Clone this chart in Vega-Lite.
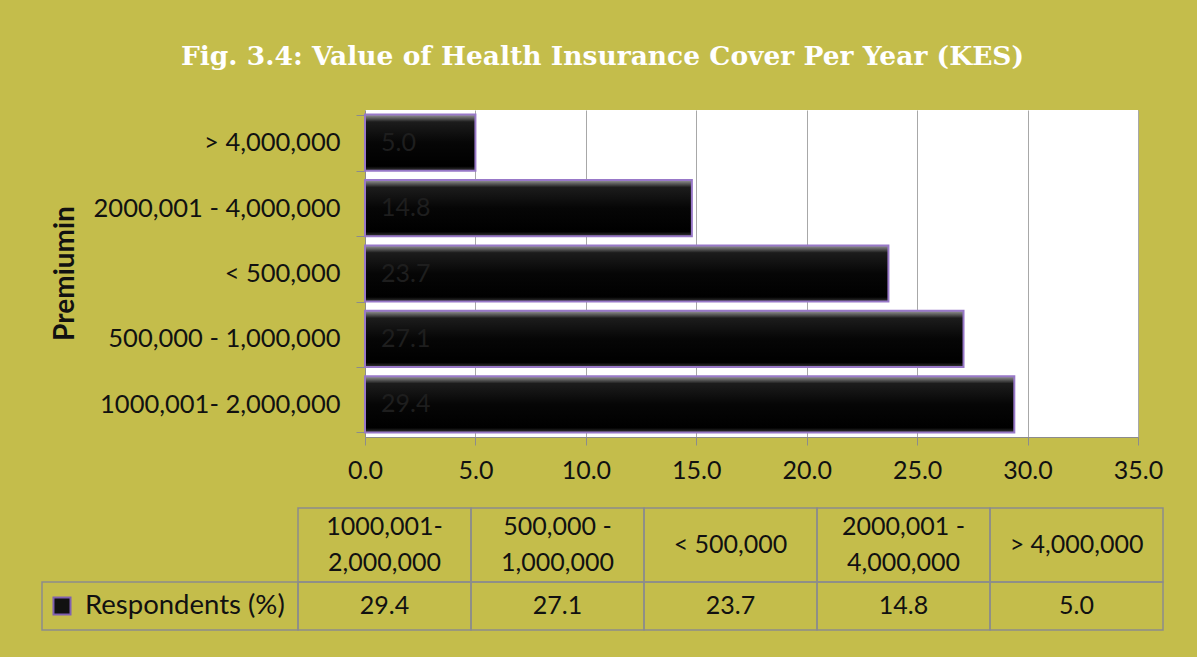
{
  "$schema": "https://vega.github.io/schema/vega-lite/v6.json",
  "width": 773,
  "height": 327,
  "autosize": {"type": "none"},
  "padding": {"left": 365, "top": 110, "right": 59, "bottom": 220},
  "background": "#C4BD4B",
  "title": {
    "text": "Fig. 3.4: Value of Health Insurance Cover Per Year (KES)",
    "anchor": "middle",
    "dx": -149,
    "offset": 7,
    "baseline": "alphabetic",
    "font": "DejaVu Serif",
    "fontSize": 26.5,
    "fontWeight": "bold",
    "color": "white",
    "frame": "group"
  },
  "config": {
    "view": {"fill": "white", "stroke": null},
    "font": "Lato"
  },
  "datasets": {
    "resp": [
      {"premium": "> 4,000,000", "hdr": "> 4,000,000", "pct": 5.0},
      {"premium": "2000,001 - 4,000,000", "hdr": "2000,001 -\n4,000,000", "pct": 14.8},
      {"premium": "< 500,000", "hdr": "< 500,000", "pct": 23.7},
      {"premium": "500,000 - 1,000,000", "hdr": "500,000 -\n1,000,000", "pct": 27.1},
      {"premium": "1000,001- 2,000,000", "hdr": "1000,001-\n2,000,000", "pct": 29.4}
    ],
    "series": [{"series": "Respondents (%)"}]
  },
  "layer": [
    {
      "data": {"name": "resp"},
      "layer": [
        {
          "mark": {
            "type": "bar",
            "fill": {
              "gradient": "linear", "x1": 0, "y1": 0, "x2": 0, "y2": 1,
              "stops": [
                {"offset": 0, "color": "#9a9a9a"},
                {"offset": 0.13, "color": "#1c1c1c"},
                {"offset": 0.5, "color": "#060606"},
                {"offset": 0.92, "color": "#000000"},
                {"offset": 1, "color": "#3a3a3a"}
              ]
            },
            "stroke": "#9878C8",
            "strokeWidth": 2
          },
          "encoding": {
            "y": {
              "field": "premium", "type": "nominal",
              "sort": ["> 4,000,000", "2000,001 - 4,000,000", "< 500,000", "500,000 - 1,000,000", "1000,001- 2,000,000"],
              "scale": {"paddingInner": 0.14, "paddingOuter": 0.07},
              "axis": {
                "title": "Premiumin",
                "titleX": -300,
                "titleY": 163,
                "titleAngle": 270,
                "titleAlign": "center",
                "titleBaseline": "middle",
                "titleFont": "Lato",
                "titleFontSize": 28,
                "titleFontWeight": "bold",
                "titleColor": "#111111",
                "tickBand": "extent",
                "tickSize": 9,
                "tickColor": "#8c8c8c",
                "domainColor": "#8c8c8c",
                "labelPadding": 16,
                "labelFontSize": 25.5,
                "labelColor": "#111111",
                "labelLimit": 400,
                "grid": false
              }
            },
            "x": {
              "field": "pct", "type": "quantitative",
              "scale": {"domain": [0, 35], "nice": false},
              "axis": {
                "title": null,
                "values": [0, 5, 10, 15, 20, 25, 30, 35],
                "format": ".1f",
                "grid": true,
                "gridColor": "#a8a8a8",
                "tickSize": 8,
                "tickColor": "#8c8c8c",
                "domainColor": "#8c8c8c",
                "labelPadding": 13,
                "labelFontSize": 25,
                "labelColor": "#111111",
                "labelFlush": false,
                "labelOverlap": false
              }
            }
          }
        },
        {
          "mark": {"type": "text", "align": "left", "baseline": "middle", "dx": 16, "fontSize": 25, "color": "#1e1e1e"},
          "encoding": {
            "y": {
              "field": "premium", "type": "nominal",
              "sort": ["> 4,000,000", "2000,001 - 4,000,000", "< 500,000", "500,000 - 1,000,000", "1000,001- 2,000,000"]
            },
            "x": {"datum": 0, "type": "quantitative"},
            "text": {"field": "pct", "type": "quantitative", "format": ".1f"}
          }
        }
      ]
    },
    {
      "data": {"name": "resp"},
      "encoding": {
        "x": {
          "field": "premium", "type": "nominal",
          "sort": ["1000,001- 2,000,000", "500,000 - 1,000,000", "< 500,000", "2000,001 - 4,000,000", "> 4,000,000"],
          "scale": {"range": [-67, 798], "paddingInner": 0, "paddingOuter": 0},
          "axis": null
        },
        "y": {"datum": "header", "type": "nominal", "scale": {"domain": ["header"], "range": [398, 472], "paddingInner": 0, "paddingOuter": 0}, "axis": null}
      },
      "layer": [
        {"mark": {"type": "rect", "fill": "transparent", "stroke": "#8c8c8c", "strokeWidth": 1.5}},
        {
          "transform": [{"filter": "indexof(datum.hdr, '\\n') >= 0"}],
          "mark": {"type": "text", "lineBreak": "\n", "fontSize": 25, "lineHeight": 36, "baseline": "middle", "align": "center", "dy": -18, "color": "#111111"},
          "encoding": {"text": {"field": "hdr"}}
        },
        {
          "transform": [{"filter": "indexof(datum.hdr, '\\n') < 0"}],
          "mark": {"type": "text", "fontSize": 25, "baseline": "middle", "align": "center", "color": "#111111"},
          "encoding": {"text": {"field": "hdr"}}
        }
      ]
    },
    {
      "data": {"name": "resp"},
      "encoding": {
        "x": {
          "field": "premium", "type": "nominal",
          "sort": ["1000,001- 2,000,000", "500,000 - 1,000,000", "< 500,000", "2000,001 - 4,000,000", "> 4,000,000"],
          "scale": {"range": [-67, 798], "paddingInner": 0, "paddingOuter": 0},
          "axis": null
        },
        "y": {"datum": "value", "type": "nominal", "scale": {"domain": ["value"], "range": [472, 520], "paddingInner": 0, "paddingOuter": 0}, "axis": null}
      },
      "layer": [
        {"mark": {"type": "rect", "fill": "transparent", "stroke": "#8c8c8c", "strokeWidth": 1.5}},
        {
          "mark": {"type": "text", "fontSize": 25, "baseline": "middle", "align": "center", "color": "#111111"},
          "encoding": {"text": {"field": "pct", "type": "quantitative", "format": ".1f"}}
        }
      ]
    },
    {
      "data": {"name": "series"},
      "encoding": {
        "x": {"field": "series", "type": "nominal", "scale": {"range": [-323, -67], "paddingInner": 0, "paddingOuter": 0}, "axis": null},
        "y": {"datum": "value", "type": "nominal", "scale": {"domain": ["value"], "range": [472, 520], "paddingInner": 0, "paddingOuter": 0}, "axis": null}
      },
      "layer": [
        {"mark": {"type": "rect", "fill": "transparent", "stroke": "#8c8c8c", "strokeWidth": 1.5}},
        {
          "mark": {"type": "point", "shape": "square", "size": 290, "filled": true, "fill": "#111111", "stroke": "#8060B0", "strokeWidth": 2, "opacity": 1, "xOffset": 20},
          "encoding": {"x": {"field": "series", "type": "nominal", "bandPosition": 0}}
        },
        {
          "mark": {"type": "text", "fontSize": 27.5, "baseline": "middle", "align": "left", "dx": 43, "color": "#111111"},
          "encoding": {"x": {"field": "series", "type": "nominal", "bandPosition": 0}, "text": {"field": "series"}}
        }
      ]
    }
  ],
  "resolve": {"scale": {"x": "independent", "y": "independent"}, "axis": {"x": "independent", "y": "independent"}}
}
